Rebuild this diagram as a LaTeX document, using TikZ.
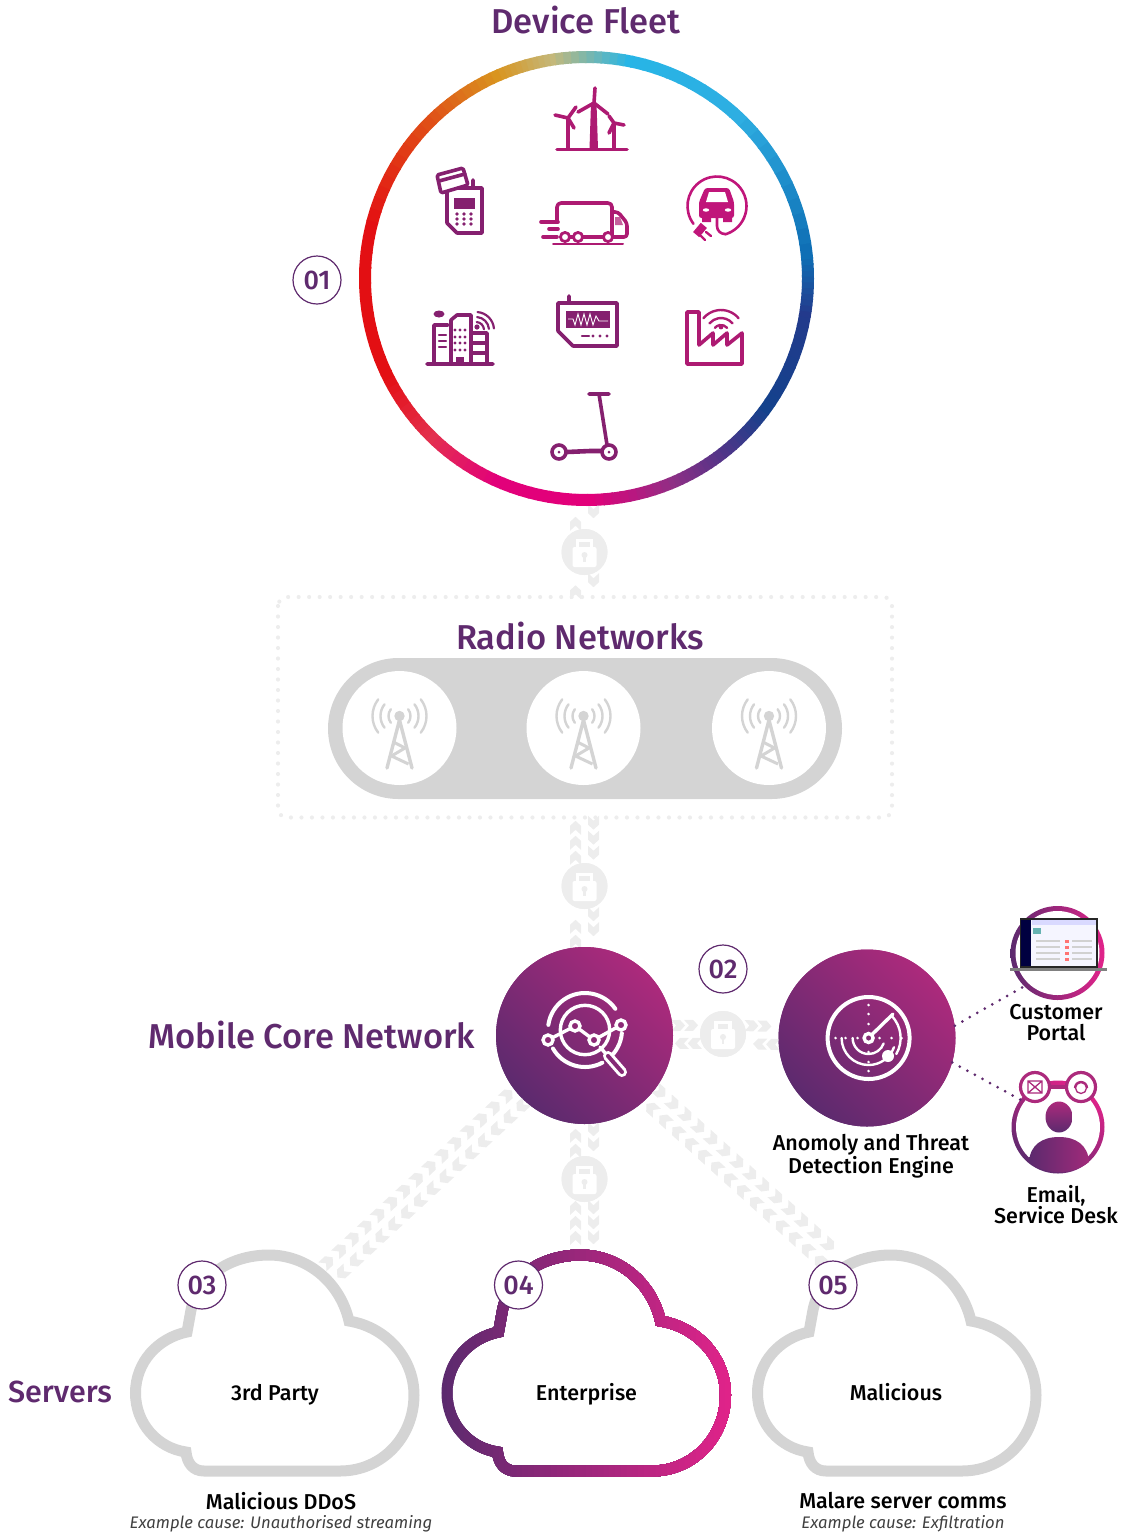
\documentclass[tikz,border=0pt]{standalone}
\usepackage{fontspec}
\setmainfont[BoldFont={Fira Sans Medium}]{Fira Sans}
\usetikzlibrary{decorations.markings}
\definecolor{titlePurple}{HTML}{5F2A6E}
\definecolor{corePurple}{HTML}{5C2A6E}
\definecolor{coreMagenta}{HTML}{AC2A7C}
\definecolor{cloudMagenta}{HTML}{E2238A}
\definecolor{paleGray}{HTML}{D4D4D4}
\definecolor{lockGray}{HTML}{EDEDED}
\definecolor{iconMagenta}{HTML}{AD1A72}
\definecolor{iconPurple}{HTML}{85206F}
\definecolor{evMagenta}{HTML}{C0157A}
\definecolor{ringA}{HTML}{E2007A}
\definecolor{ringB}{HTML}{8F2F85}
\definecolor{ringC}{HTML}{553488}
\definecolor{ringD}{HTML}{14428C}
\definecolor{ringE}{HTML}{233A8C}
\definecolor{ringF}{HTML}{0F6FB5}
\definecolor{ringG}{HTML}{2EAEE2}
\definecolor{ringH}{HTML}{27B5E6}
\definecolor{ringI}{HTML}{C4B87A}
\definecolor{ringJ}{HTML}{D9941F}
\definecolor{ringK}{HTML}{E04E17}
\definecolor{ringL}{HTML}{E30F13}
\definecolor{ringM}{HTML}{E3304F}
\newcommand{\cloudshape}{(187,1332) .. controls (158,1338) and (135.5,1362) .. (135.5,1393) .. controls (135.5,1424) and (158,1448) .. (186,1452) .. controls (187,1463) and (193,1471) .. (204,1471) -- (340,1471) .. controls (382,1471) and (414,1437) .. (414,1395) .. controls (414,1358) and (386,1327) .. (349,1321) .. controls (340,1282) and (307,1255) .. (269,1255) .. controls (232,1255) and (198,1275) .. (191,1310) -- cycle}
\tikzset{
  headtext/.style={font=\bfseries\fontsize{34.5}{38}\selectfont, text=titlePurple, inner sep=0pt},
  labeltext/.style={font=\bfseries\fontsize{21.5}{21}\selectfont, text=black, align=center, inner sep=0pt},
  causetext/.style={font=\itshape\fontsize{16.7}{18}\selectfont, text=black!75, inner sep=0pt},
  stepbadge/.style={circle, draw=titlePurple, fill=white, line width=1.2pt, minimum size=48pt, inner sep=0pt, text=titlePurple, font=\bfseries\fontsize{27}{28}\selectfont},
  lockdisc/.style={circle, fill=lockGray, minimum size=46pt, inner sep=0pt},
  towerdisc/.style={circle, fill=white, minimum size=114pt, inner sep=0pt},
  gradedisc/.style={circle, inner sep=0pt, minimum size=#1, bottom color=corePurple, top color=coreMagenta, shading angle=-45},
  linedot/.style={draw=titlePurple, line width=3pt, line cap=round, dash pattern=on 0pt off 8.6pt},
  cloudline/.style={line width=11pt, line join=miter, fill=white},
  devline/.style={line width=3.6pt, line join=round, line cap=round, draw=#1},
  whiteline/.style={draw=white, line width=3.4pt, line cap=round},
  chevlane/.style n args={3}{decorate, decoration={markings, mark=between positions 6pt and -3pt step #1 with {
    \fill[lockGray] (6pt,#2) -- (1pt,#2+#3) -- (-8pt,#2+#3) -- (-3pt,#2) -- (-8pt,#2-#3) -- (1pt,#2-#3) -- cycle;}}},
  padlock/.pic={
    \fill[white, rounded corners=2pt] (-12,-5) rectangle (12,15);
    \draw[white, line width=3.4pt] (-7,-5) -- (-7,-11.5) -- (7,-11.5) -- (7,-5);
    \fill[lockGray] (0,3) circle (3pt);
    \fill[lockGray] (-1.3,3) rectangle (1.3,10);
  },
  radiotower/.pic={
    \fill[paleGray] (0,-12) circle (5.2pt);
    \foreach \rad in {11,19,27} {
      \draw[paleGray, line width=2.4pt, line cap=round] ([shift={(-38:\rad pt)}]0,-12) arc[start angle=-38, end angle=38, radius=\rad pt];
      \draw[paleGray, line width=2.4pt, line cap=round] ([shift={(142:\rad pt)}]0,-12) arc[start angle=142, end angle=218, radius=\rad pt];
    }
    \draw[paleGray, line width=3.4pt, line cap=round, line join=round] (-12.5,40) -- (0,-8) -- (12.5,40);
    \draw[paleGray, line width=3pt] (-6,14) -- (5.5,20) -- (-8,28) -- (9,36);
  },
}
\begin{document}
\begin{tikzpicture}[x=1pt, y=-1pt]
  \useasboundingbox (0,0) rectangle (1123,1535);
  %main nodes
  \node[circle, minimum size=455pt, inner sep=0pt] (fleet) at (584.5,278.5) {};
  \node[lockdisc] (lockA) at (584.5,552) {};
  \node[lockdisc] (lockB) at (584.5,886) {};
  \node[lockdisc] (lockC) at (723,1034) {};
  \node[lockdisc] (lockD) at (584.5,1179) {};
  \node[minimum width=614pt, minimum height=220pt, inner sep=0pt] (radiobox) at (584.5,707.5) {};
  \node[gradedisc=177pt] (core) at (584.5,1035.5) {};
  \node[gradedisc=177pt] (engine) at (867,1038) {};
  \coordinate (cloudAtop) at (330,1272);
  \coordinate (cloudBtop) at (584.5,1243);
  \coordinate (cloudCtop) at (830,1258);
  % chevrons
  \foreach \from/\to in {fleet/lockA, lockA/radiobox, radiobox/lockB, lockB/core, core/lockD, lockD/cloudBtop} {
    \path[chevlane={15pt}{9pt}{5.5pt}] (\from) -- (\to);
    \path[chevlane={15pt}{9pt}{5.5pt}] (\to) -- (\from);
  }
  \foreach \from/\to in {core/lockC, lockC/engine} {
    \path[chevlane={13pt}{9pt}{5.5pt}] (\from) -- (\to);
    \path[chevlane={13pt}{9pt}{5.5pt}] (\to) -- (\from);
  }
  \foreach \from/\to in {core/cloudAtop, core/cloudCtop} {
    \path[chevlane={17.5pt}{9pt}{6pt}] (\from) -- (\to);
    \path[chevlane={17.5pt}{9pt}{6pt}] (\to) -- (\from);
  }
  \foreach \lock in {lockA, lockB, lockC, lockD} {
    \node[lockdisc] at (\lock) {};
    \pic at (\lock) {padlock};
  }
  \node[gradedisc=177pt] at (core) {};
  \node[gradedisc=177pt] at (engine) {};
  % colour ring
  \coordinate (ringmid) at (586.5,278.5);
  \foreach \sa/\sb/\ca/\cb in {-90/-68/ringA/ringB, -68/-54/ringB/ringC, -54/-37/ringC/ringD, -37/-10/ringD/ringE, -10/5/ringE/ringF, 5/45/ringF/ringG, 45/78/ringG/ringH, 78/98/ringH/ringI, 98/113/ringI/ringJ, 113/134/ringJ/ringK, 134/165/ringK/ringL, 165/205/ringL/ringL, 205/225/ringL/ringM, 225/245/ringM/ringA, 245/270/ringA/ringA} {
    \foreach \t in {0,10,...,90} {
      \pgfmathsetmacro{\ang}{\sa+(\sb-\sa)*\t/100}
      \pgfmathsetmacro{\angend}{\ang+(\sb-\sa)/10+0.4}
      \draw[line width=12pt, draw=\cb!\t!\ca] ([shift={(\ang:221.5pt)}]ringmid) arc[start angle=\ang, end angle=\angend, radius=221.5pt];
    }
  }
  \node[headtext] (fleettitle) at (586,20) {Device Fleet};
  \node[stepbadge] (stepA) at (317,280) {01};
  % device icons
  % wind turbines
  \draw[devline=iconMagenta] (557,149.3) -- (627,149.3);
  \fill[iconMagenta] (591,103) -- (596.5,103) -- (598,149) -- (589.5,149) -- cycle;
  \draw[devline=iconMagenta] (594,103) -- (595,88) (594,103) -- (578,112) (594,103) -- (608,114);
  \draw[devline=iconMagenta] (568,118) -- (568,149) (568,118) -- (555,115) (568,118) -- (576,107) (568,118) -- (574,128);
  \draw[devline=iconMagenta] (614,123) -- (614,149) (614,123) -- (609,116) (614,123) -- (624,125) (614,123) -- (609,133);
  % payment terminal
  \draw[devline=iconPurple] (447,188) -- (482,188) -- (482,233) -- (457,233) -- (447,223) -- cycle (473,180) -- (473,186);
  \fill[iconPurple] (454,198) rectangle (475,209);
  \foreach \px in {457,464,471} \foreach \py in {214,219,224} \fill[iconPurple] (\px,\py) circle (1.9pt);
  \draw[devline=iconPurple, fill=white, rounded corners=1.5pt] (437,175) -- (463,168) -- (468,185) -- (441,193) -- cycle;
  \draw[devline=iconPurple] (439,181) -- (465,174);
  % truck
  \draw[devline=iconMagenta, rounded corners=4pt] (557,222) -- (557,203) -- (612,203) -- (612,237);
  \draw[devline=iconMagenta, rounded corners=3pt] (612,212) -- (618,212) -- (627,223) -- (627,237) -- (612,237);
  \fill[iconMagenta!70] (615,217) -- (620,217) -- (623,225) -- (615,225) -- cycle;
  \draw[devline=iconMagenta] (541,222) -- (558,222) (549,229) -- (558,229) (543,237) -- (557,237) (570,237) -- (603,237);
  \draw[devline=iconMagenta, line width=2pt] (553,244) -- (623,244);
  \foreach \wx in {565,578,608} \draw[devline=iconMagenta, fill=white, line width=2.8pt] (\wx,237) circle (4.6pt);
  % charging car
  \draw[devline=evMagenta, line width=2.6pt] ([shift={(217:29.5pt)}]717,206) arc[start angle=217, end angle=-74, radius=29.5pt];
  \fill[evMagenta, rounded corners=2.5pt] (705,188) -- (729,188) -- (734,202) -- (734,218) -- (699,218) -- (699,202) -- cycle;
  \fill[evMagenta] (702,215) rectangle (711,222) (723,215) rectangle (732,222);
  \fill[white] (709,192) -- (725,192) -- (728,202) -- (706,202) -- cycle;
  \fill[white] (706,210) ellipse (3.2pt and 1.7pt) (728,210) ellipse (3.2pt and 1.7pt);
  \draw[devline=evMagenta, line width=2.6pt] (717,218) -- (717,226) .. controls (717,231) and (721,234) .. (725,234);
  \fill[evMagenta, rotate around={-40:(700,230)}] (696,224) rectangle (704,236);
  \draw[devline=evMagenta, line width=2.4pt] (706,232) -- (711,236) (701,236) -- (705,240);
  % smart building
  \draw[devline=iconPurple] (427,364) -- (493,364) (434,364) -- (434,325) -- (448,325) (451,364) -- (451,320) -- (457,315) -- (471,315) -- (471,364) (472,333) -- (487,333) -- (487,364) (472,343) -- (487,343) (472,353) -- (487,353);
  \fill[iconPurple] (439,314) ellipse (5.5pt and 3.5pt);
  \fill[iconPurple] (456,357) rectangle (464,364);
  \foreach \px in {455,460,465} \foreach \py in {330,337,343,350} \fill[iconPurple] (\px,\py) circle (1.7pt);
  \draw[devline=iconPurple, line width=2.2pt] (439,335) -- (446,335) (439,341) -- (446,341) (439,347) -- (446,347);
  \fill[iconPurple] (477,327) circle (2.6pt);
  \foreach \rad in {8,13,18} \draw[devline=iconPurple, line width=2.2pt] ([shift={(5:\rad pt)}]476,330) arc[start angle=5, end angle=85, radius=\rad pt];
  % monitor
  \draw[devline=iconPurple] (558,303) -- (617,303) -- (617,346) -- (573,346) -- (558,331) -- cycle (569,296) -- (569,303);
  \fill[iconPurple] (566,311) rectangle (610,328);
  \draw[white, line width=0.9pt] (568,319) -- (573,319) -- (575,325) -- (578,314) -- (581,325) -- (584,314) -- (587,325) -- (590,314) -- (593,325) -- (596,316) -- (599,321) -- (608,321);
  \draw[devline=iconPurple, line width=2.4pt] (582,336) -- (589,336);
  \foreach \px in {593,600,607} \fill[iconPurple] (\px,336) circle (1.7pt);
  % factory
  \draw[devline=iconMagenta] (687,312) -- (699,312) -- (699,345) -- (713,333) -- (713,345) -- (727,333) -- (727,345) -- (742,333) -- (742,364) -- (687,364) -- cycle;
  \fill[iconMagenta] (721,327) circle (2.4pt);
  \foreach \rad in {8,15,23} \draw[devline=iconMagenta, line width=2.4pt] ([shift={(40:\rad pt)}]721,333) arc[start angle=40, end angle=140, radius=\rad pt];
  % scooter
  \draw[devline=iconPurple] (589,394) -- (609,394) (599,394) -- (608,451);
  \draw[devline=iconPurple, line width=4.6pt] (567,452) -- (590,451) -- (603,451);
  \draw[devline=iconPurple, fill=white] (559,452) circle (7pt) (609,452) circle (7pt);
  \fill[iconPurple] (559,452) circle (1.5pt) (609,452) circle (1.5pt);
  % radio networks
  \draw[draw=lockGray, line width=4.2pt, line cap=round, rounded corners=9pt, dash pattern=on 0pt off 10.5pt] (278,597) rectangle (892,817.5);
  \node[headtext] (radiotitle) at (580,636) {Radio Networks};
  \node[fill=paleGray, minimum width=514pt, minimum height=141pt, rounded corners=70.5pt, inner sep=0pt] (radiopill) at (585,728.5) {};
  \foreach \tname/\tx in {towerA/399.5, towerB/583.5, towerC/769} {
    \node[towerdisc] (\tname) at (\tx,728) {};
    \pic at (\tname) {radiotower};
  }
  % core icon
  \draw[whiteline] (585,1030) circle (24.7pt);
  \draw[whiteline, line width=4pt] ([shift={(35:37pt)}]585,1030) arc[start angle=35, end angle=172, radius=37pt];
  \draw[whiteline, line width=4pt] ([shift={(-50:37pt)}]585,1030) arc[start angle=-50, end angle=-5, radius=37pt];
  \draw[whiteline, line width=4pt] ([shift={(-150:37pt)}]585,1030) arc[start angle=-150, end angle=-62, radius=37pt];
  \draw[whiteline] (548,1040) -- (575,1026) -- (594,1040) -- (621,1025);
  \foreach \px/\py in {548/1040, 575/1026, 594/1040, 621/1025} \draw[whiteline, fill=coreMagenta!60!corePurple] (\px,\py) circle (5pt);
  \draw[whiteline] (600,1047) -- (606,1054);
  \draw[white, line width=10pt, line cap=round] (608,1056) -- (622,1072);
  \draw[coreMagenta!50!corePurple, line width=4pt, line cap=round] (608,1056) -- (622,1072);
  \node[headtext] (coretitle) at (312,1035) {Mobile Core Network};
  \node[stepbadge] (stepB) at (723,969) {02};
  % radar icon
  \draw[whiteline, line width=4pt] (868.6,1038) circle (41pt);
  \draw[whiteline] (868.6,1038) circle (4.5pt);
  \draw[whiteline] (871.5,1035) -- (893,1014);
  \foreach \rad in {16,27} \draw[whiteline, line width=2.4pt] ([shift={(180:\rad pt)}]868.6,1038) arc[start angle=180, end angle=340, radius=\rad pt];
  \draw[whiteline, line width=2.4pt] ([shift={(-30:32pt)}]868.6,1038) arc[start angle=-30, end angle=44, radius=32pt];
  \foreach \dx/\dy in {0/-33, 0/-24, 0/-14, 0/14, 0/24, 0/33, -33/0, -23/0, -11/0, 11/0, 23/0, 33/0} \fill[white] (868.6+\dx,1038+\dy) circle (1.4pt);
  \fill[white] (888,1056) circle (6pt);
  \node[labeltext] (enginelabel) at (871,1156.5) {Anomoly and Threat\\Detection Engine};
  % portal and desk
  \node[circle, inner sep=0pt, minimum size=94pt, left color=corePurple, right color=cloudMagenta] (portal) at (1057.5,953) {};
  \fill[white] (portal.center) circle (42pt);
  \fill[black!85] (1019.5,918) rectangle (1097.5,968);
  \fill[white!96!blue] (1021,920) rectangle (1096,966);
  \fill[black!75!blue] (1021,920) rectangle (1031,966);
  \fill[teal!60] (1033,928) rectangle (1041,934);
  \fill[blue!15] (1032,920) rectangle (1096,925);
  \foreach \ry in {940,946,952,958} {
    \fill[black!18] (1036,\ry) rectangle (1060,\ry+2);
    \fill[black!18] (1072,\ry) rectangle (1092,\ry+2);
    \fill[red!55] (1065,\ry) rectangle (1069,\ry+3);
  }
  \fill[black!50] (1010,968) rectangle (1106.5,971);
  \node[labeltext] (portallabel) at (1056,1022.5) {Customer\\Portal};
  \node[circle, inner sep=0pt, minimum size=93pt, bottom color=corePurple, top color=cloudMagenta, shading angle=-35] (desk) at (1058,1127) {};
  \fill[white] (desk.center) circle (42pt);
  \draw[linedot] (engine.8) -- (portal.225);
  \draw[linedot] (engine.-16) -- (desk.144);
  \shade[bottom color=corePurple, top color=coreMagenta] (1059,1117) ellipse (13.5pt and 15.5pt);
  \shade[left color=corePurple, right color=coreMagenta!85!corePurple] (1029,1162) .. controls (1030,1145) and (1042,1137) .. (1059,1137) .. controls (1076,1137) and (1088,1145) .. (1089,1162) .. controls (1080,1169) and (1070,1172) .. (1059,1172) .. controls (1048,1172) and (1038,1169) .. (1029,1162) -- cycle;
  \node[circle, draw=coreMagenta, fill=white, line width=3.2pt, minimum size=29pt, inner sep=0pt] (mailbadge) at (1035,1087) {};
  \node[circle, draw=coreMagenta, fill=white, line width=3.2pt, minimum size=29pt, inner sep=0pt] (facebadge) at (1081,1087) {};
  \draw[coreMagenta, line width=3.2pt] (mailbadge) -- (facebadge);
  \draw[coreMagenta, line width=1.3pt] (1028,1081) rectangle (1042,1093) (1028,1081) -- (1042,1093) (1042,1081) -- (1028,1093);
  \draw[coreMagenta, line width=1.3pt] (1081,1088) circle (5.5pt) (1074.5,1088) arc[start angle=180, end angle=0, radius=6.5pt];
  \node[labeltext] (desklabel) at (1056,1204.5) {Email,\\Service Desk};
  % clouds
  \node[headtext, font=\bfseries\fontsize{30.5}{34}\selectfont] (serverstitle) at (60,1392) {Servers};
  \draw[cloudline, draw=paleGray] \cloudshape;
  \draw[cloudline, draw=paleGray, xshift=622pt] \cloudshape;
  \fill[white, xshift=311.5pt] \cloudshape;
  \foreach \t in {0,2,...,100} {
    \begin{scope}
      \clip (441+\t*2.9,1240) rectangle (740,1490);
      \draw[line width=11pt, draw=cloudMagenta!\t!corePurple, xshift=311.5pt] \cloudshape;
    \end{scope}
  }
  \node[labeltext, anchor=base] (cloudA) at (275,1400) {3rd Party};
  \node[labeltext, anchor=base] (cloudB) at (586.5,1400) {Enterprise};
  \node[labeltext, anchor=base] (cloudC) at (896,1400) {Malicious};
  \node[stepbadge] (stepC) at (202,1285) {03};
  \node[stepbadge] (stepD) at (518.5,1285) {04};
  \node[stepbadge] (stepE) at (833,1285) {05};
  \node[labeltext] (ddoslabel) at (281,1501) {Malicious DDoS};
  \node[causetext] (ddoscause) at (281,1524) {Example cause: Unauthorised streaming};
  \node[labeltext] (malarelabel) at (903,1501) {Malare server comms};
  \node[causetext] (malarecause) at (903,1524) {Example cause: Exfiltration};
\end{tikzpicture}
\end{document}
